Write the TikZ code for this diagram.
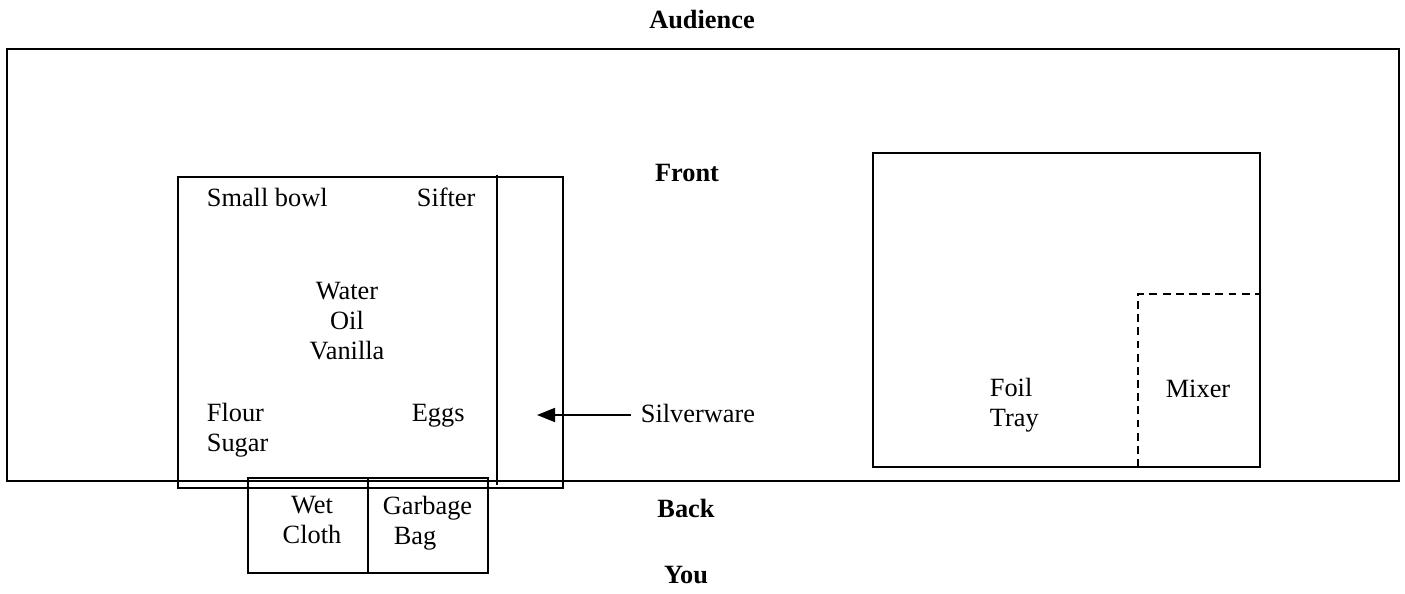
\documentclass[tikz,border=0pt]{standalone}
\usepackage{fontspec}
\setmainfont{Liberation Serif}
\usetikzlibrary{positioning,arrows.meta}

\begin{document}
\begin{tikzpicture}[
x=0.02cm, y=-0.02cm,
line width=1pt,
>={Triangle[length=3.6mm,width=2.8mm]},
every node/.style={font=\fontsize{15}{17}\selectfont, inner sep=0pt},
heading/.style={%
    font=\fontsize{15}{17}\selectfont\bfseries,
},
item/.style={%
    align=center,
},
itemleft/.style={%
    align=left, anchor=west,
},
area/.style={%
    draw=black,
},
divider/.style={%
    draw=black, dash pattern=on 4.5pt off 3pt,
},
]
\useasboundingbox (0,0) rectangle (1405,594);

% Areas
\draw[area] (7,49)    rectangle (1399,481);
\draw[area] (178,177) rectangle (563,488);
\draw[area] (497,175) -- (497,485);
\draw[area] (248,478) rectangle (488,573);
\draw[area] (368,478) -- (368,573);
\draw[area] (873,153) rectangle (1260,467);
\draw[divider] (1138,467) |- (1260,294);

% Nodes
\node[heading]  at (702,20)   (audience)   {Audience};
\node[heading]  at (687,173)  (front)      {Front};
\node[heading]  at (686,508)  (back)       {Back};
\node[heading]  at (686,575)  (you)        {You};

\node[itemleft] at (206,197)  (bowl)       {Small bowl};
\node[itemleft] at (416,197)  (sifter)     {Sifter};
\node[item]     at (347,321)  (liquids)    {Water\\Oil\\Vanilla};
\node[itemleft] at (206,430)  (dry)        {Flour\\Sugar};
\node[itemleft] at (411,416)  (eggs)       {Eggs};

\node[itemleft] at (640,413)  (silverware) {Silverware};
\coordinate                   (shelf)      at (537,415);

\node[item]     at (312,520)  (cloth)      {Wet\\Cloth};
\node[itemleft] at (382,523)  (garbage)    {Garbage\\\hspace*{2.2mm}Bag};

\node[itemleft] at (989,405)  (foil)       {Foil\\Tray};
\node[item]     at (1198,389) (mixer)      {Mixer};

% Lines
\draw[->] (silverware.west) ++(-9,2) -- (shelf);
\end{tikzpicture}
\end{document}
